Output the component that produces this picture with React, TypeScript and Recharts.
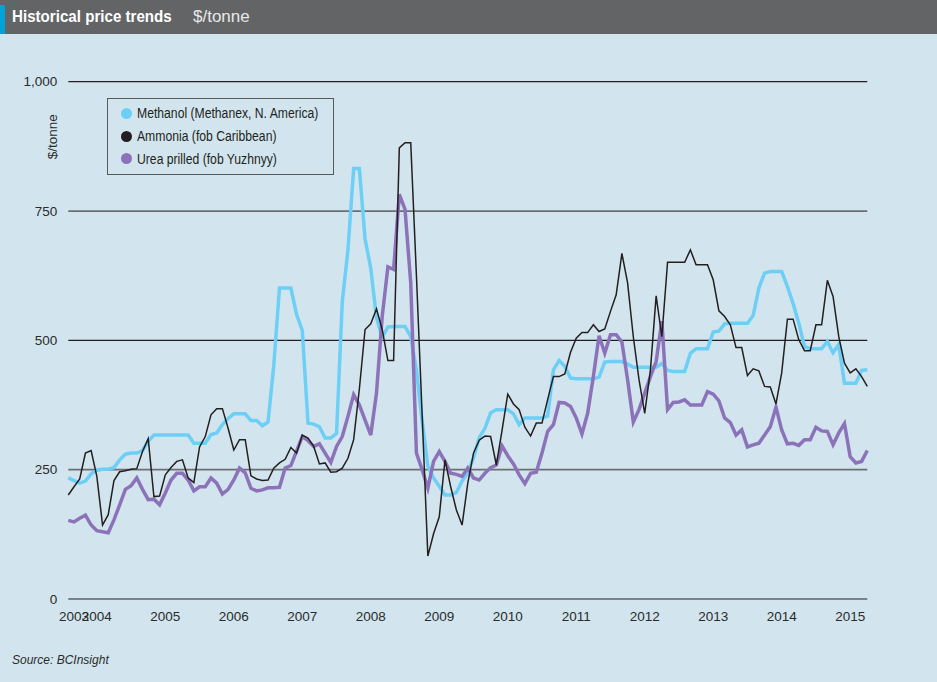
import { LineChart, Line, XAxis, YAxis, ReferenceLine, Legend } from "recharts";

// monthly series, Aug 2003 – Apr 2015
const startYear = 2003;
const startMonth = 8;

const methanol = [
  234, 229, 224, 228, 242, 249, 251, 251, 254, 269,
  280, 282, 282, 287, 305, 317, 317, 317, 317, 317,
  317, 317, 301, 301, 301, 318, 321, 337, 349, 358,
  358, 358, 345, 345, 335, 342, 451, 601, 601, 601,
  550, 519, 340, 338, 333, 311, 311, 320, 574, 675,
  832, 832, 696, 639, 544, 506, 526, 527, 527, 527,
  507, 442, 344, 257, 234, 218, 201, 201, 206, 228,
  244, 273, 312, 330, 360, 366, 366, 366, 358, 337,
  350, 350, 350, 350, 354, 443, 461, 450, 427, 426,
  426, 426, 426, 429, 458, 459, 459, 459, 454, 448,
  448, 448, 448, 448, 455, 442, 440, 440, 440, 475,
  484, 484, 484, 516, 518, 532, 533, 533, 533, 533,
  548, 601, 630, 633, 633, 633, 604, 571, 533, 488,
  484, 484, 484, 498, 476, 492, 417, 417, 417, 442,
  443,
];

const ammonia = [
  201, 217, 232, 282, 287, 237, 143, 163, 229, 246,
  248, 251, 252, 285, 310, 198, 199, 240, 254, 266,
  269, 234, 225, 294, 314, 356, 368, 368, 330, 288,
  308, 308, 238, 232, 229, 230, 253, 263, 270, 293,
  282, 317, 311, 295, 261, 263, 245, 246, 253, 272,
  308, 406, 521, 532, 561, 521, 461, 461, 872, 882,
  882, 625, 356, 83, 126, 159, 269, 217, 172, 143,
  224, 282, 307, 315, 314, 259, 326, 396, 377, 366,
  332, 315, 340, 340, 386, 430, 430, 435, 477, 504,
  515, 515, 530, 517, 522, 556, 588, 668, 611, 507,
  424, 359, 443, 586, 507, 651, 651, 651, 651, 675,
  646, 646, 646, 617, 557, 546, 530, 486, 486, 432,
  445, 441, 411, 410, 377, 437, 541, 541, 501, 480,
  480, 530, 530, 616, 585, 507, 456, 437, 445, 430,
  411,
];

const urea = [
  152, 149, 156, 162, 143, 132, 130, 128, 153, 182,
  212, 219, 234, 212, 192, 193, 182, 205, 230, 243,
  243, 230, 209, 217, 217, 234, 224, 203, 212, 230,
  253, 244, 214, 209, 211, 215, 215, 216, 253, 258,
  286, 314, 306, 295, 300, 282, 264, 295, 314, 353,
  395, 375, 346, 317, 398, 546, 642, 637, 782, 753,
  611, 282, 250, 214, 266, 285, 266, 243, 241, 237,
  253, 234, 230, 243, 254, 259, 296, 277, 261, 240,
  223, 243, 245, 282, 324, 337, 380, 379, 372, 350,
  319, 359, 430, 509, 475, 511, 511, 497, 424, 342,
  366, 398, 430, 459, 537, 366, 380, 381, 385, 375,
  375, 375, 401, 396, 383, 350, 341, 317, 327, 294,
  298, 301, 317, 333, 371, 327, 300, 301, 297, 308,
  308, 332, 325, 324, 298, 321, 339, 275, 263, 266,
  287,
];

const months = methanol.map((_, i) => {
  const n = startMonth - 1 + i;
  const y = startYear + Math.floor(n / 12);
  const m = (n % 12) + 1;
  return `${y}-${String(m).padStart(2, "0")}`;
});

const yearTicks = [
  "2003-09", "2004-01", "2005-01", "2006-01", "2007-01", "2008-01", "2009-01",
  "2010-01", "2011-01", "2012-01", "2013-01", "2014-01", "2015-01",
];
const valueTicks = [0, 250, 500, 750, 1000];

const seriesNames = [
  "Methanol (Methanex, N. America)",
  "Ammonia (fob Caribbean)",
  "Urea prilled (fob Yuzhnyy)",
];
const seriesColors = ["#6dcff6", "#231f20", "#8c73b9"];

const data = months.map((month, i) => ({
  month,
  methanol: methanol[i],
  ammonia: ammonia[i],
  urea: urea[i],
}));

const FONT = '"Liberation Sans", Arial, sans-serif';
const BG = "#d2e5ee";

const renderLegend = () => (
  <div
    style={{
      border: "1px solid #58595b",
      padding: "3px 0 0 13px",
      boxSizing: "border-box",
      width: 227,
      height: 77,
      fontFamily: FONT,
      fontSize: 14,
      color: "#231f20",
    }}
  >
    {seriesNames.map((name, i) => (
      <div key={name} style={{ display: "flex", alignItems: "center", height: 22.7, whiteSpace: "nowrap" }}>
        <span
          style={{
            width: 11,
            height: 11,
            borderRadius: "50%",
            background: seriesColors[i],
            marginRight: 5,
            display: "inline-block",
            flex: "none",
          }}
        />
        <span style={{ display: "inline-block", transform: "scaleX(0.87)", transformOrigin: "left center" }}>
          {name}
        </span>
      </div>
    ))}
  </div>
);

const tickStyle = { fontFamily: FONT, fontSize: 13.5, fill: "#2b2b2b" };

export default function App() {
  return (
    <div style={{ position: "relative", width: 937, height: 682, background: BG, overflow: "hidden" }}>
      <style>{`body{margin:0}`}</style>
      <div
        style={{
          position: "absolute",
          left: 0,
          top: 0,
          width: 937,
          height: 34,
          background: "#636466",
          fontFamily: FONT,
          fontSize: 17,
          color: "#fff",
          display: "flex",
          alignItems: "center",
          whiteSpace: "nowrap",
        }}
      >
        <div style={{ position: "absolute", left: 0, top: 5, width: 5, height: 29, background: "#00a3d9" }} />
        <span
          style={{
            position: "absolute",
            left: 12,
            fontWeight: 700,
            transform: "scaleX(0.89)",
            transformOrigin: "left center",
          }}
        >
          Historical price trends
        </span>
        <span style={{ position: "absolute", left: 193, color: "#e8e8e8" }}>$/tonne</span>
      </div>

      <div style={{ position: "absolute", left: 0, top: 0 }}>
        <LineChart width={937} height={682} data={data} margin={{ top: 81.7, right: 0, bottom: 0, left: 0 }}>
          <XAxis
            dataKey="month"
            ticks={yearTicks}
            interval={0}
            tickFormatter={(v: string) => v.slice(0, 4)}
            axisLine={false}
            tickLine={false}
            tickMargin={6}
            height={83}
            tick={tickStyle}
          />
          <YAxis
            yAxisId="left"
            domain={[0, 1000]}
            ticks={valueTicks}
            tickFormatter={(v: number) => v.toLocaleString("en-US")}
            axisLine={false}
            tickLine={false}
            tickMargin={5}
            width={68.3}
            tick={tickStyle}
            label={{
              value: "$/tonne",
              content: (props: any) => (
                <text
                  x={props.viewBox.x + 57}
                  y={props.viewBox.y + 55}
                  transform={`rotate(-90 ${props.viewBox.x + 57} ${props.viewBox.y + 55})`}
                  textAnchor="middle"
                  fontFamily={FONT}
                  fontSize={13.5}
                  fill="#2b2b2b"
                >
                  $/tonne
                </text>
              ),
            }}
          />
          <YAxis
            yAxisId="right"
            orientation="right"
            domain={[0, 1000]}
            ticks={valueTicks}
            tickFormatter={(v: number) => v.toLocaleString("en-US")}
            axisLine={false}
            tickLine={false}
            tickMargin={4}
            width={69.7}
            tick={tickStyle}
          />
          {valueTicks.map((v, i) => (
            <ReferenceLine
              key={v}
              yAxisId="left"
              y={v}
              stroke={i % 2 === 0 ? "#231f20" : "#6d6e71"}
              strokeWidth={i % 2 === 0 ? 1.2 : 1.8}
            />
          ))}
          <Line
            yAxisId="left"
            dataKey="methanol"
            name={seriesNames[0]}
            stroke={seriesColors[0]}
            strokeWidth={3.5}
            dot={false}
            type="linear"
            isAnimationActive={false}
          />
          <Line
            yAxisId="left"
            dataKey="urea"
            name={seriesNames[2]}
            stroke={seriesColors[2]}
            strokeWidth={3.5}
            dot={false}
            type="linear"
            isAnimationActive={false}
          />
          <Line
            yAxisId="left"
            dataKey="ammonia"
            name={seriesNames[1]}
            stroke={seriesColors[1]}
            strokeWidth={1.5}
            dot={false}
            type="linear"
            isAnimationActive={false}
          />
          <Legend
            layout="vertical"
            align="center"
            verticalAlign="middle"
            content={renderLegend}
            wrapperStyle={{ left: 107, top: 98, width: 227, height: 77 }}
          />
        </LineChart>
      </div>

      <div
        style={{
          position: "absolute",
          left: 12,
          top: 653,
          fontFamily: FONT,
          fontStyle: "italic",
          fontSize: 12,
          color: "#2b2b2b",
        }}
      >
        Source: BCInsight
      </div>
    </div>
  );
}
